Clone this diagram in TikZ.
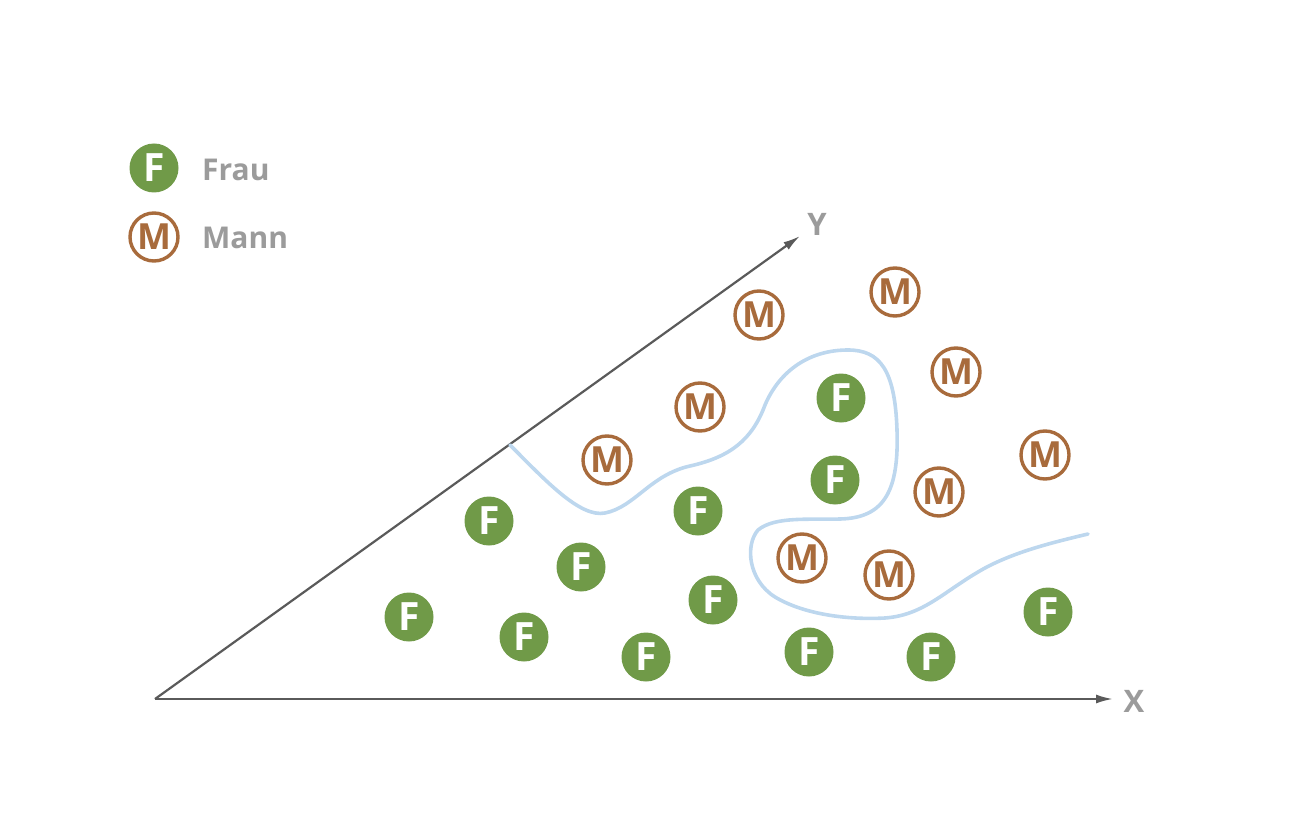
\documentclass[tikz,border=0pt]{standalone}
\usepackage{fontspec}
\setmainfont{Open Sans}
\usetikzlibrary{arrows.meta}
\definecolor{fgreen}{RGB}{112,154,72}
\definecolor{mbrown}{RGB}{168,107,60}
\definecolor{txtgray}{RGB}{155,155,155}
\definecolor{axgray}{RGB}{90,90,90}
\definecolor{curveblue}{RGB}{189,215,238}
\tikzset{
  fnode/.style={circle, fill=fgreen, draw=none, minimum size=49pt, inner sep=0pt,
    text=white, font=\fontsize{39}{39}\selectfont\bfseries},
  mnode/.style={circle, draw=mbrown, line width=3.4pt, fill=white, minimum size=48pt, inner sep=0pt,
    text=mbrown, font=\fontsize{36}{36}\selectfont\bfseries},
  legtext/.style={anchor=west, text=txtgray, inner sep=0pt, font=\fontsize{30}{30}\selectfont\bfseries},
  axislabel/.style={text=txtgray, inner sep=0pt, font=\fontsize{31}{31}\selectfont\bfseries},
  axis/.style={draw=axgray, line width=2.2pt, -{Latex[length=17pt,width=9pt]}},
  boundary/.style={draw=curveblue, line width=3.6pt, line cap=round}
}
\begin{document}
\begin{tikzpicture}[x=1pt,y=-1pt]
\useasboundingbox (0,0) rectangle (1290,818);
% legend
\node[fnode] (lf) at (154,168) {F};
\node[legtext] (lft) at (202,170) {Frau};
\node[mnode] (lm) at (154,237) {M};
\node[legtext] (lmt) at (202,238) {Mann};
% axes
\coordinate (O) at (155,699);
\coordinate (xe) at (1113,699);
\coordinate (ye) at (800,236);
\draw[axis] (O) -- (xe);
\draw[axis] (O) -- (ye);
\node[axislabel] (xl) at (1134,701) {X};
\node[axislabel] (yl) at (817,224) {Y};
% boundary curve
\coordinate (cs) at (510,445);
\coordinate (ce) at (1088,534);
\draw[boundary] (cs) .. controls (545,480) and (580,518) .. (605,513)
  .. controls (635,507) and (650,475) .. (690,466)
  .. controls (730,457) and (752,440) .. (765,405)
  .. controls (780,370) and (810,350) .. (848,350)
  .. controls (880,350) and (895,370) .. (897,430)
  .. controls (899,490) and (885,518) .. (840,519)
  .. controls (810,520) and (775,516) .. (758,530)
  .. controls (745,545) and (748,580) .. (775,597)
  .. controls (805,615) and (850,620) .. (885,618)
  .. controls (925,615) and (945,590) .. (985,568)
  .. controls (1015,552) and (1050,543) .. (ce);
% F nodes
\node[fnode] (f1) at (489,521) {F};
\node[fnode] (f2) at (581,567) {F};
\node[fnode] (f3) at (409,617) {F};
\node[fnode] (f4) at (524,637) {F};
\node[fnode] (f5) at (646,657) {F};
\node[fnode] (f6) at (713,600) {F};
\node[fnode] (f7) at (698,511) {F};
\node[fnode] (f8) at (841,398) {F};
\node[fnode] (f9) at (835,480) {F};
\node[fnode] (f10) at (809,652) {F};
\node[fnode] (f11) at (931,657) {F};
\node[fnode] (f12) at (1048,612) {F};
% M nodes
\node[mnode] (m1) at (759,315) {M};
\node[mnode] (m2) at (895,292) {M};
\node[mnode] (m3) at (956,372) {M};
\node[mnode] (m4) at (700,407) {M};
\node[mnode] (m5) at (607,460) {M};
\node[mnode] (m6) at (1045,455) {M};
\node[mnode] (m7) at (939,492) {M};
\node[mnode] (m8) at (802,558) {M};
\node[mnode] (m9) at (889,575) {M};
\end{tikzpicture}
\end{document}
